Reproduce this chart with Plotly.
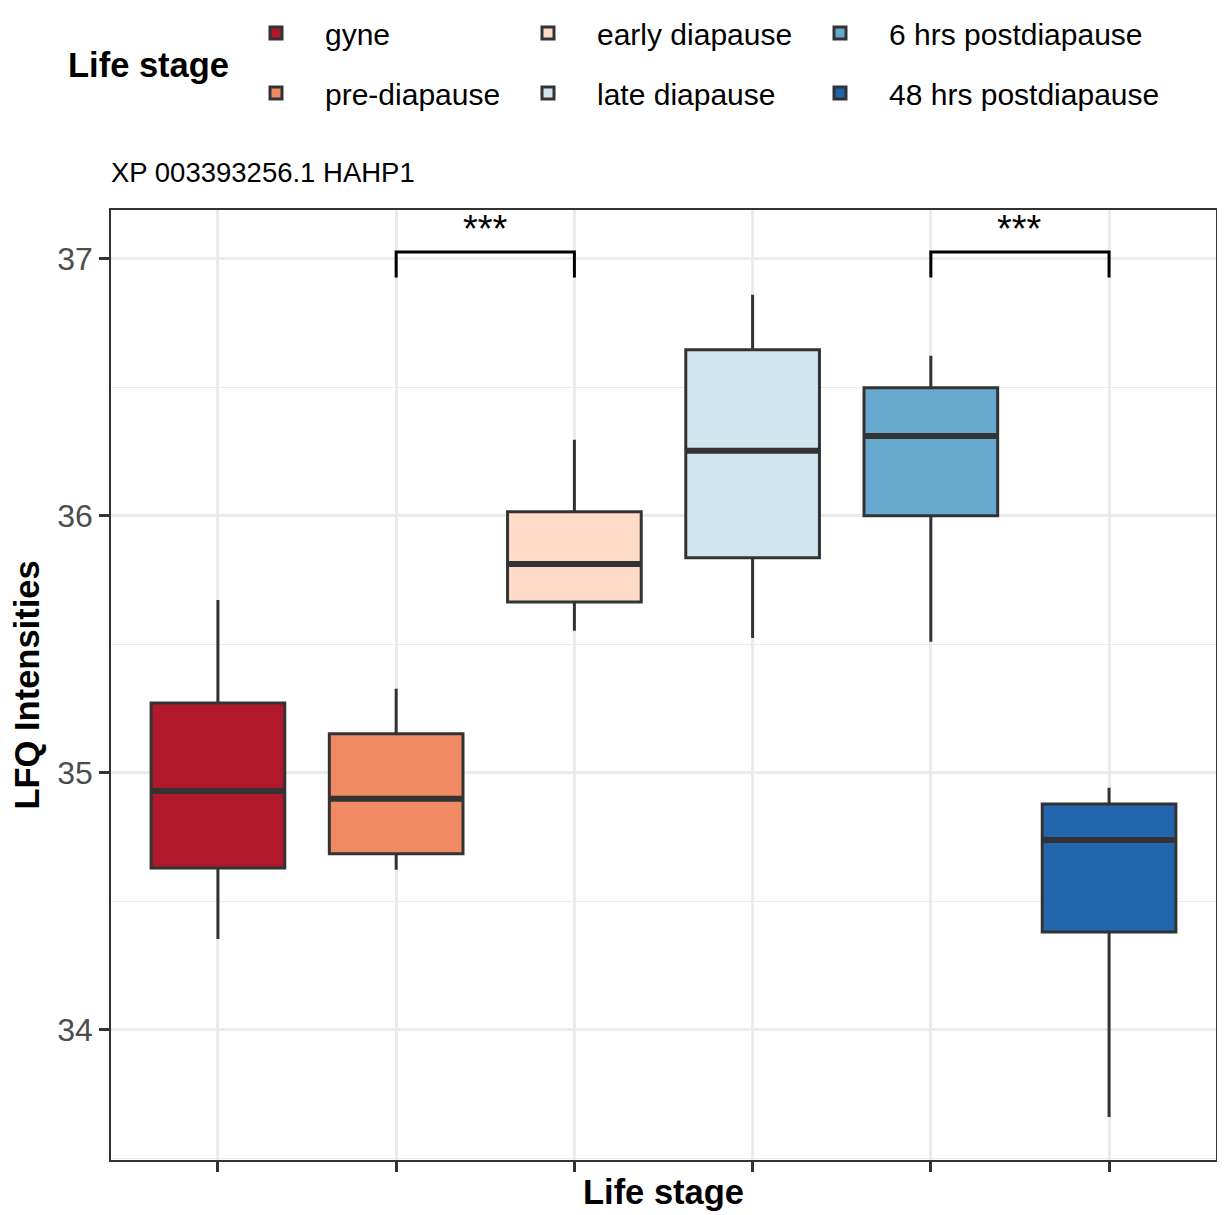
import plotly.graph_objects as go

# ---- data ----
stages = ["gyne", "pre-diapause", "early diapause", "late diapause",
          "6 hrs postdiapause", "48 hrs postdiapause"]
positions = [1, 2, 3, 4, 5, 6]
lower_whisker = [34.354, 34.623, 35.553, 35.525, 35.510, 33.661]
q1 = [34.630, 34.685, 35.665, 35.837, 36.000, 34.381]
median = [34.930, 34.899, 35.813, 36.253, 36.311, 34.739]
q3 = [35.272, 35.152, 36.016, 36.646, 36.498, 34.879]
upper_whisker = [35.673, 35.327, 36.296, 36.860, 36.623, 34.942]
colors = ["#B2182B", "#EF8A62", "#FDDBC7", "#D1E5F0", "#67A9CF", "#2166AC"]

sig_pairs = [(2, 3), (5, 6)]
sig_labels = ["***", "***"]
sig_y = 37.027
sig_tip = 0.10
sig_text_y = 37.115

y_ticks = [34, 35, 36, 37]
y_range = [33.494, 37.19]
x_range = [0.4, 6.6]
box_width = 0.75

FONT = "Liberation Sans, Arial, Helvetica, sans-serif"
LINE = "#333333"

# page geometry (the page body adds an 8 px offset)
OFF = 8
W, H = 1225 - OFF, 1215 - OFF
L, T = 111 - OFF, 210 - OFF
R, B = 9, 55
PW, PH = W - L - R, H - T - B
def px2x(px):
    return (px - OFF - L) / PW
def py2y(py):
    return (H - B - (py - OFF)) / PH

fig = go.Figure()

legend_names = ["legend", "legend2", "legend3", "legend4", "legend5", "legend6"]
# column-major placement: (text start px, row center px)
legend_text_x = [325, 325, 597, 597, 889, 889]
legend_row_y = [33, 93, 33, 93, 33, 93]

for i, s in enumerate(stages):
    fig.add_trace(go.Box(
        x=[positions[i]], name=s,
        q1=[q1[i]], median=[median[i]], q3=[q3[i]],
        lowerfence=[lower_whisker[i]], upperfence=[upper_whisker[i]],
        width=box_width, whiskerwidth=0, fillcolor=colors[i],
        line=dict(color=LINE, width=3),
        legend=legend_names[i], showlegend=True, hoverinfo="skip",
    ))
    # thicker median line (ggplot fatten)
    fig.add_trace(go.Scatter(
        x=[positions[i] - box_width / 2, positions[i] + box_width / 2],
        y=[median[i], median[i]], mode="lines",
        line=dict(color=LINE, width=6), showlegend=False, hoverinfo="skip",
    ))

for (a, b), lab in zip(sig_pairs, sig_labels):
    fig.add_trace(go.Scatter(
        x=[a, a, b, b], y=[sig_y - sig_tip, sig_y, sig_y, sig_y - sig_tip],
        mode="lines", line=dict(color="black", width=3),
        showlegend=False, hoverinfo="skip",
    ))
    fig.add_annotation(x=(a + b) / 2, y=sig_text_y, text=lab, showarrow=False,
                       font=dict(family=FONT, size=38, color="black"),
                       xanchor="center", yanchor="middle")

ITEMW = 88
layout_legends = {}
for i, ln in enumerate(legend_names):
    layout_legends[ln] = dict(
        x=px2x(legend_text_x[i] - ITEMW - 10), xanchor="left",
        y=py2y(legend_row_y[i]), yanchor="middle",
        font=dict(family=FONT, size=30, color="black"),
        bgcolor="rgba(0,0,0,0)", borderwidth=0, itemwidth=ITEMW,
    )

fig.add_annotation(xref="paper", yref="paper", x=px2x(66), y=py2y(65),
                   text="<b>Life stage</b>", showarrow=False,
                   xanchor="left", yanchor="middle",
                   font=dict(family=FONT, size=34.5, color="black"))

fig.update_layout(
    width=W, height=H,
    margin=dict(l=L, r=R, t=T, b=B, autoexpand=False),
    paper_bgcolor="white", plot_bgcolor="white",
    font=dict(family=FONT, color="black"),
    title=dict(text="XP 003393256.1 HAHP1", x=0, xref="paper",
               xanchor="left", y=1 - (172 - OFF) / H, yref="container",
               yanchor="middle", font=dict(family=FONT, size=27.5, color="black")),
    **layout_legends,
)

fig.update_xaxes(
    range=x_range, tickvals=positions, ticktext=[""] * 6, showticklabels=False,
    showgrid=True, gridcolor="#EBEBEB", gridwidth=2.5, zeroline=False,
    ticks="outside", ticklen=10, tickwidth=2.5, tickcolor=LINE,
    showline=True, mirror=True, linecolor=LINE, linewidth=1.5,
    title=dict(text="<b>Life stage</b>", standoff=9,
               font=dict(family=FONT, size=34.5, color="black")),
)
fig.update_yaxes(
    range=y_range, tickvals=y_ticks, ticktext=[str(v) for v in y_ticks],
    showgrid=True, gridcolor="#EBEBEB", gridwidth=2.5, zeroline=False,
    minor=dict(dtick=0.5, tick0=0, showgrid=True, gridcolor="#EBEBEB",
               gridwidth=1.3, ticks=""),
    ticks="outside", ticklen=10, tickwidth=2.5, tickcolor=LINE,
    tickfont=dict(family=FONT, size=32, color="#4D4D4D"),
    showline=True, mirror=True, linecolor=LINE, linewidth=1.5,
    title=dict(text="<b>LFQ Intensities</b>", standoff=19,
               font=dict(family=FONT, size=34.5, color="black")),
)

fig.write_html("out.html")
